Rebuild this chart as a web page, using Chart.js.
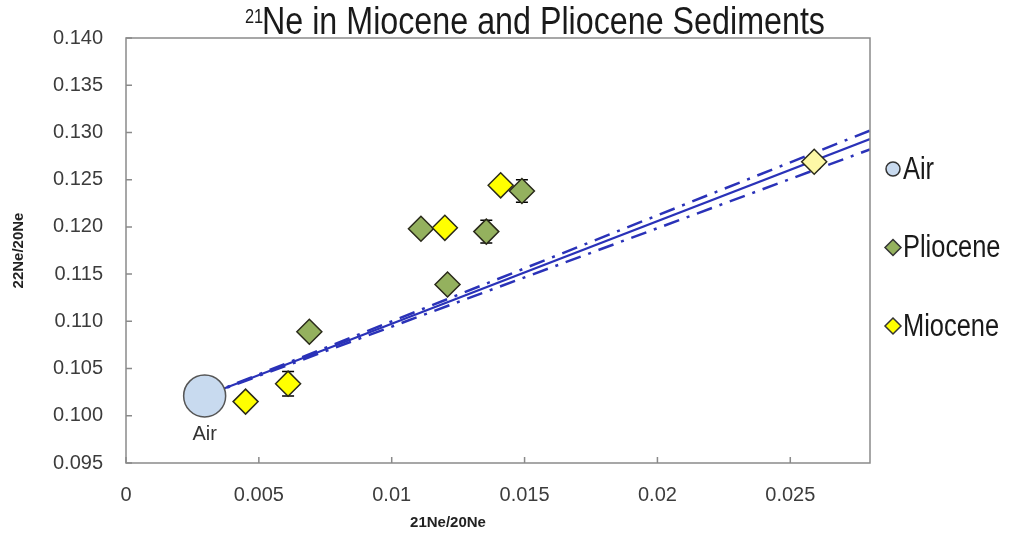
<!DOCTYPE html>
<html>
<head>
<meta charset="utf-8">
<script src="https://cdn.jsdelivr.net/npm/chart.js@4.4.1/dist/chart.umd.min.js"></script>
<style>
  html, body { margin: 0; padding: 0; background: #fff; }
  #wrap { width: 1014px; height: 534px; position: relative; }
</style>
</head>
<body>
<div id="wrap"><canvas id="neon-chart"></canvas></div>
<script>
// values
const airX = [0.00296];
const airY = [0.1021];
const plioceneX = [0.0069, 0.0111, 0.0121, 0.01356, 0.0149];
const plioceneY = [0.1089, 0.1198, 0.1139, 0.1195, 0.1238];
const plioceneErr = [0, 0, 0, 0.0012, 0.0012];
const mioceneX = [0.0045, 0.0061, 0.0120, 0.0141];
const mioceneY = [0.1015, 0.1034, 0.1199, 0.1244];
const mioceneErr = [0, 0.0013, 0, 0];
const modernX = [0.0259];
const modernY = [0.1269];
const lineX = [0.00296, 0.028];
const mixY = [0.1021, 0.1293];
const upperY = [0.1021, 0.1302];
const lowerY = [0.1021, 0.1282];
const xTicks = [0, 0.005, 0.01, 0.015, 0.02, 0.025];
const yTicks = [0.095, 0.100, 0.105, 0.110, 0.115, 0.120, 0.125, 0.130, 0.135, 0.140];

const FONT = "'Liberation Sans', Arial, sans-serif";

function pts(xs, ys) {
    return xs.map(function (x, i) { return { x: x, y: ys[i] }; });
}

// condensed text (the original uses a narrow face)
function narrowText(ctx, text, x, y, sx) {
    ctx.save();
    ctx.translate(x, y);
    ctx.scale(sx, 1);
    ctx.fillText(text, 0, 0);
    ctx.restore();
}

const frame = {
    id: 'frame',
    beforeDatasetsDraw(chart) {
        const ctx = chart.ctx;
        const yScale = chart.scales.y;
        // error bars behind the markers
        chart.data.datasets.forEach(function (ds, di) {
            if (!ds.err) return;
            const meta = chart.getDatasetMeta(di);
            ds.data.forEach(function (p, i) {
                const e = ds.err[i];
                if (!e) return;
                const px = meta.data[i].x;
                const top = yScale.getPixelForValue(p.y + e);
                const bot = yScale.getPixelForValue(p.y - e);
                ctx.save();
                ctx.strokeStyle = '#000';
                ctx.lineWidth = 1.5;
                ctx.beginPath();
                ctx.moveTo(px, top); ctx.lineTo(px, bot);
                ctx.moveTo(px - 6, top); ctx.lineTo(px + 6, top);
                ctx.moveTo(px - 6, bot); ctx.lineTo(px + 6, bot);
                ctx.stroke();
                ctx.restore();
            });
        });
    },
    afterDraw(chart) {
        const ctx = chart.ctx;
        const a = chart.chartArea;
        const xs = chart.scales.x, ys = chart.scales.y;
        ctx.save();
        // plot box
        ctx.strokeStyle = '#8a8a8a';
        ctx.lineWidth = 1.5;
        ctx.strokeRect(a.left, a.top, a.right - a.left, a.bottom - a.top);
        // inside tick marks
        ctx.beginPath();
        xTicks.forEach(function (v) {
            const px = xs.getPixelForValue(v);
            ctx.moveTo(px, a.bottom); ctx.lineTo(px, a.bottom - 6);
        });
        yTicks.forEach(function (v) {
            const py = ys.getPixelForValue(v);
            ctx.moveTo(a.left, py); ctx.lineTo(a.left + 6, py);
        });
        ctx.stroke();

        // title with superscript, squeezed to the original width
        ctx.fillStyle = '#1a1a1a';
        ctx.textBaseline = 'alphabetic';
        ctx.textAlign = 'left';
        ctx.font = '21px ' + FONT;
        narrowText(ctx, '21', 245, 23, 0.78);
        ctx.font = '38px ' + FONT;
        const main = 'Ne in Miocene and Pliocene Sediments';
        narrowText(ctx, main, 262, 34, 563 / ctx.measureText(main).width);

        // x axis title
        ctx.font = 'bold 15px ' + FONT;
        ctx.textAlign = 'center';
        ctx.fillStyle = '#222';
        ctx.fillText('21Ne/20Ne', 448, 527);

        // label under the air point
        const air = chart.getDatasetMeta(0).data[0];
        ctx.font = '20px ' + FONT;
        ctx.fillStyle = '#333';
        ctx.fillText('Air', air.x, air.y + 44);

        // legend
        let ly = 169;
        ctx.textAlign = 'left';
        ctx.textBaseline = 'middle';
        chart.data.datasets.forEach(function (ds) {
            if (!ds.inLegend) return;
            ctx.fillStyle = ds.backgroundColor;
            ctx.strokeStyle = '#333';
            ctx.lineWidth = 1.5;
            ctx.beginPath();
            if (ds.pointStyle === 'circle') {
                ctx.arc(893, ly, 7, 0, Math.PI * 2);
            } else {
                ctx.moveTo(893, ly - 8); ctx.lineTo(901, ly);
                ctx.lineTo(893, ly + 8); ctx.lineTo(885, ly);
                ctx.closePath();
            }
            ctx.fill();
            ctx.stroke();
            ctx.fillStyle = '#1a1a1a';
            ctx.font = '31px ' + FONT;
            narrowText(ctx, ds.label, 903, ly + 1, 0.82);
            ly += 78.5;
        });
        ctx.restore();
    }
};

const ctx = document.getElementById('neon-chart').getContext('2d');
new Chart(ctx, {
    type: 'scatter',
    data: {
        datasets: [
            {
                label: 'Air', data: pts(airX, airY), inLegend: true, order: 1,
                pointStyle: 'circle', pointRadius: 21, pointHoverRadius: 21,
                backgroundColor: '#c8daef', borderColor: '#555', borderWidth: 1.5
            },
            {
                label: 'Pliocene', data: pts(plioceneX, plioceneY), err: plioceneErr, inLegend: true, order: 3,
                pointStyle: 'rectRot', pointRadius: 12.5, pointHoverRadius: 12.5,
                backgroundColor: '#94b15e', borderColor: '#2a2a1a', borderWidth: 1.5
            },
            {
                label: 'Miocene', data: pts(mioceneX, mioceneY), err: mioceneErr, inLegend: true, order: 2,
                pointStyle: 'rectRot', pointRadius: 12.5, pointHoverRadius: 12.5,
                backgroundColor: '#ffff00', borderColor: '#2a2a1a', borderWidth: 1.5
            },
            {
                label: 'Modern', data: pts(modernX, modernY), order: 4,
                pointStyle: 'rectRot', pointRadius: 12.5, pointHoverRadius: 12.5,
                backgroundColor: '#fdf8a6', borderColor: '#2a2a1a', borderWidth: 1.5
            },
            {
                label: 'mixing', data: pts(lineX, mixY), showLine: true, order: 10,
                pointRadius: 0, borderColor: '#2a32b8', borderWidth: 2
            },
            {
                label: 'upper', data: pts(lineX, upperY), showLine: true, order: 10,
                pointRadius: 0, borderColor: '#2a32b8', borderWidth: 2.5, borderDash: [16, 8, 3, 8]
            },
            {
                label: 'lower', data: pts(lineX, lowerY), showLine: true, order: 10,
                pointRadius: 0, borderColor: '#2a32b8', borderWidth: 2.5, borderDash: [16, 8, 3, 8]
            }
        ]
    },
    options: {
        responsive: true,
        maintainAspectRatio: false,
        animation: false,
        layout: { padding: { left: 0, right: 144, top: 38, bottom: 0 } },
        plugins: {
            legend: { display: false },
            tooltip: { enabled: false }
        },
        scales: {
            x: {
                type: 'linear', min: 0, max: 0.028,
                afterFit: function (s) { s.height = 71; },
                afterBuildTicks: function (s) { s.ticks = xTicks.map(function (v) { return { value: v }; }); },
                grid: { display: false, drawTicks: false },
                border: { display: false },
                ticks: {
                    padding: 20, color: '#3c3c3c', font: { family: FONT, size: 20 },
                    callback: function (v) { return String(+v.toFixed(3)); }
                }
            },
            y: {
                type: 'linear', min: 0.095, max: 0.140,
                afterFit: function (s) { s.width = 126; },
                afterBuildTicks: function (s) { s.ticks = yTicks.map(function (v) { return { value: v }; }); },
                grid: { display: false, drawTicks: false },
                border: { display: false },
                title: {
                    display: true, text: '22Ne/20Ne', color: '#222',
                    font: { family: FONT, size: 15, weight: 'bold' }, padding: { top: 10, bottom: 0 }
                },
                ticks: {
                    padding: 23, color: '#3c3c3c', font: { family: FONT, size: 20 },
                    callback: function (v) { return v.toFixed(3); }
                }
            }
        }
    },
    plugins: [frame]
});
</script>
</body>
</html>
